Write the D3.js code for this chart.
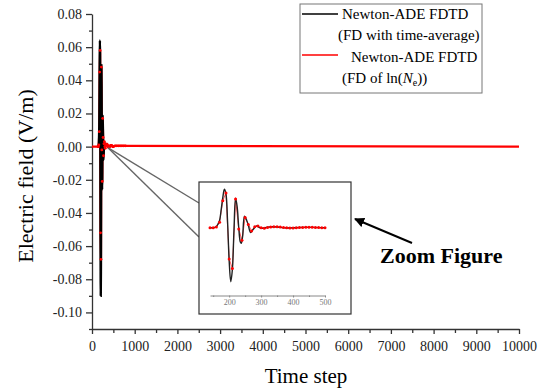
<!DOCTYPE html>
<style>
body { margin: 0; background: #fff; }
svg { font-family: "Liberation Serif", "Times New Roman", serif; }
.axis path, .axis line { stroke: #333; stroke-width: 1.3px; }
.axis text { font-size: 14px; fill: #222; font-family: "Liberation Serif", serif; }
.inset-axis path, .inset-axis line { stroke: #888; stroke-width: 1px; }
.inset-axis text { font-size: 8px; fill: #777; font-family: "Liberation Serif", serif; }
</style>
<svg width="550" height="391"></svg>
<script src="https://cdn.jsdelivr.net/npm/d3@7"></script>
<script>

// black: Newton-ADE FDTD (FD with time-average)
var blackT = [0, 140, 150, 155, 160, 165, 170, 175, 180, 185, 190, 195, 200, 205, 210, 215, 220, 225,
              230, 235, 238, 242, 248, 255, 260, 267, 275, 286, 295, 305, 320, 340, 360, 380, 400,
              430, 460, 500, 10000];
var blackV = [0, 0, 0, 0.0005, 0.002, 0.006, 0.012, 0.03, 0.05, 0.064, 0.056, 0.01, -0.055, -0.09,
              -0.07, -0.005, 0.049, 0.035, 0.0, -0.024, -0.026, -0.015, 0.019, 0.012, 0.004, -0.008,
              -0.003, 0.003, 0.0, -0.001, 0.001, 0.0015, 0.0005, -0.0005, 0.0, 0.0005, 0.0005, 0, 0];

// red: Newton-ADE FDTD (FD of ln(Ne))
var redT = [0, 140, 150, 160, 170, 180, 190, 200, 210, 220, 230, 240, 250, 260, 270, 280, 290, 300,
            310, 320, 330, 340, 350, 360, 370, 380, 390, 400, 410, 420, 430, 440, 450, 460, 470,
            480, 490, 500, 540, 580, 620, 660, 700, 740, 780, 10000];
var redV = [0, 0, 0, 0.001, 0.009, 0.045, 0.058, -0.052, -0.068, 0.048, -0.002, -0.021, 0.017,
            0.0055, -0.0055, 0.0017, 0.003, 0.0, -0.001, 0.0005, 0.001, 0.0015, 0.0015, 0.001,
            0.0005, 0.0, -0.0005, -0.0005, 0, 0.0003, 0.0005, 0.0008, 0.0008, 0.0006, 0.0004,
            0.0002, 0, 0, 0.0005, 0.0005, 0.0005, 0.0005, 0.0005, 0.0005, 0.0005, 0];

var xTicks = d3.range(0, 10001, 1000),
    xMinor = d3.range(500, 10000, 1000),
    yTicks = [-0.10, -0.08, -0.06, -0.04, -0.02, 0.00, 0.02, 0.04, 0.06, 0.08],
    yMinor = [-0.11, -0.09, -0.07, -0.05, -0.03, -0.01, 0.01, 0.03, 0.05, 0.07],
    insetTicks = [200, 300, 400, 500],
    insetMinor = [150, 250, 350, 450];

var black = blackT.map(function(t, i) { return {t: t, v: blackV[i]}; }),
    red = redT.map(function(t, i) { return {t: t, v: redV[i]}; }),
    redDots = red.filter(function(d) { return d.t > 0 && d.t < 10000; });

var svg = d3.select("svg");

var x = d3.scaleLinear().domain([0, 10000]).range([92, 519]),
    y = d3.scaleLinear().domain([-0.11, 0.08]).range([329, 14]);

// axes
svg.append("g")
    .attr("class", "axis")
    .attr("transform", "translate(0," + y(-0.11) + ")")
    .call(d3.axisBottom(x).tickValues(xTicks).tickSize(5).tickSizeOuter(0).tickPadding(7).tickFormat(d3.format("d")));
svg.append("g")
    .attr("class", "axis")
    .attr("transform", "translate(0," + y(-0.11) + ")")
    .call(d3.axisBottom(x).tickValues(xMinor).tickSize(4).tickFormat(""))
  .select(".domain").remove();

svg.append("g")
    .attr("class", "axis")
    .attr("transform", "translate(" + x(0) + ",0)")
    .call(d3.axisLeft(y).tickValues(yTicks).tickSize(6).tickSizeOuter(0).tickPadding(4)
      .tickFormat(function(d) { return d.toFixed(2); }));
svg.append("g")
    .attr("class", "axis")
    .attr("transform", "translate(" + x(0) + ",0)")
    .call(d3.axisLeft(y).tickValues(yMinor).tickSize(3).tickFormat(""))
  .select(".domain").remove();

svg.append("text")
    .attr("transform", "translate(33,176) rotate(-90)")
    .attr("text-anchor", "middle")
    .style("font-size", "22px")
    .text("Electric field (V/m)");

svg.append("text")
    .attr("x", 306).attr("y", 383)
    .attr("text-anchor", "middle")
    .style("font-size", "21px")
    .text("Time step");

// main series: red line under, black spike over, red symbols on top
var line = d3.line()
    .x(function(d) { return x(d.t); })
    .y(function(d) { return y(d.v); });

svg.append("path")
    .datum(red)
    .attr("fill", "none")
    .attr("stroke", "#ff0000")
    .attr("stroke-width", 2.2)
    .attr("d", line);

svg.append("path")
    .datum(black.filter(function(d) { return d.t >= 150 && d.t <= 300; }))
    .attr("fill", "none")
    .attr("stroke", "#000")
    .attr("stroke-width", 2.4)
    .attr("d", line.curve(d3.curveCatmullRom));

svg.append("g").selectAll("circle")
    .data(redDots)
  .enter().append("circle")
    .attr("cx", function(d) { return x(d.t); })
    .attr("cy", function(d) { return y(d.v); })
    .attr("r", 1.4)
    .attr("fill", "#ff0000");

// inset
var box = {x0: 199, y0: 182, x1: 351, y1: 314};

var xi = d3.scaleLinear().domain([140, 500]).range([210, 325]),
    yi = d3.scaleLinear().domain([-0.1, 0.07]).range([287.7, 185.7]);

// connector lines
[203, 237].forEach(function(ey) {
  svg.append("line")
      .attr("x1", x(380)).attr("y1", y(-0.0008))
      .attr("x2", box.x0).attr("y2", ey)
      .attr("stroke", "#666")
      .attr("stroke-width", 1.4);
});

svg.append("rect")
    .attr("x", box.x0).attr("y", box.y0)
    .attr("width", box.x1 - box.x0).attr("height", box.y1 - box.y0)
    .attr("fill", "#fff")
    .attr("stroke", "#333")
    .attr("stroke-width", 1.2);

svg.append("g")
    .attr("class", "inset-axis")
    .attr("transform", "translate(0,295.5)")
    .call(d3.axisBottom(xi).tickValues(insetTicks).tickSize(2).tickSizeOuter(0).tickPadding(2).tickFormat(d3.format("d")));
svg.append("g")
    .attr("class", "inset-axis")
    .attr("transform", "translate(0,295.5)")
    .call(d3.axisBottom(xi).tickValues(insetMinor).tickSize(1.5).tickFormat(""))
  .select(".domain").remove();

var inBlack = black.filter(function(d) { return d.t >= 140 && d.t <= 500; }),
    inRed = redDots.filter(function(d) { return d.t >= 140 && d.t <= 500; });

var lineIn = d3.line()
    .x(function(d) { return xi(d.t); })
    .y(function(d) { return yi(d.v); });

svg.append("path")
    .datum(inRed)
    .attr("fill", "none")
    .attr("stroke", "#ff3030")
    .attr("stroke-width", 0.8)
    .attr("d", lineIn);

svg.append("path")
    .datum(inBlack)
    .attr("fill", "none")
    .attr("stroke", "#222")
    .attr("stroke-width", 1.4)
    .attr("d", lineIn.curve(d3.curveCatmullRom));

svg.append("g").selectAll("circle")
    .data(inRed)
  .enter().append("circle")
    .attr("cx", function(d) { return xi(d.t); })
    .attr("cy", function(d) { return yi(d.v); })
    .attr("r", 1.5)
    .attr("fill", "#ff0000");

// annotation arrow
svg.append("defs").append("marker")
    .attr("id", "head")
    .attr("viewBox", "0 0 10 10")
    .attr("refX", 9).attr("refY", 5)
    .attr("markerWidth", 5).attr("markerHeight", 5)
    .attr("orient", "auto")
  .append("path")
    .attr("d", "M0,0L10,5L0,10Z")
    .attr("fill", "#000");

svg.append("line")
    .attr("x1", 412).attr("y1", 243)
    .attr("x2", 355).attr("y2", 219)
    .attr("stroke", "#000")
    .attr("stroke-width", 2)
    .attr("marker-end", "url(#head)");

svg.append("text")
    .attr("x", 380).attr("y", 263)
    .style("font-size", "22px")
    .style("font-weight", "bold")
    .text("Zoom Figure");

// legend
var legend = svg.append("g");

legend.append("rect")
    .attr("x", 300).attr("y", 4)
    .attr("width", 182).attr("height", 89)
    .attr("fill", "#fff")
    .attr("stroke", "#777")
    .attr("stroke-width", 1);

legend.append("line")
    .attr("x1", 302).attr("x2", 338).attr("y1", 14).attr("y2", 14)
    .attr("stroke", "#000").attr("stroke-width", 1.6);
legend.append("line")
    .attr("x1", 302).attr("x2", 338).attr("y1", 55).attr("y2", 55)
    .attr("stroke", "#ff0000").attr("stroke-width", 1.6);

var legendText = [
  {x: 342, y: 19, t: "Newton-ADE FDTD"},
  {x: 338, y: 40, t: "(FD with time-average)"},
  {x: 351, y: 62, t: "Newton-ADE FDTD"}
];
legendText.forEach(function(d) {
  legend.append("text")
      .attr("x", d.x).attr("y", d.y)
      .style("font-size", "15px")
      .text(d.t);
});

var ne = legend.append("text")
    .attr("x", 342).attr("y", 83)
    .style("font-size", "15px");
ne.append("tspan").text("(FD of ln(");
ne.append("tspan").style("font-style", "italic").text("N");
ne.append("tspan").attr("dy", 3).style("font-size", "10px").text("e");
ne.append("tspan").attr("dy", -3).text("))");

</script>
